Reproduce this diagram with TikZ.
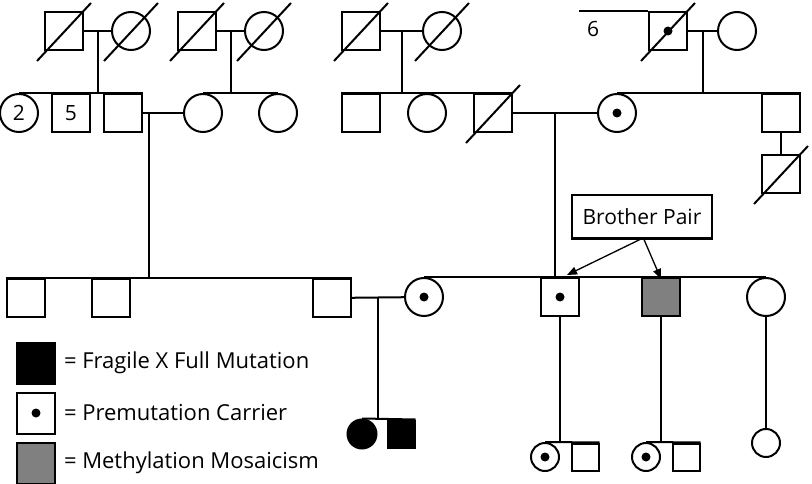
\documentclass[tikz,border=0pt]{standalone}
\usepackage{fontspec}
\setmainfont{Open Sans}
\usetikzlibrary{positioning,arrows.meta,calc}
\definecolor{mosaic}{RGB}{128,128,128}
\begin{document}
\begin{tikzpicture}[x=1pt,y=-1pt,line width=2pt]
\tikzstyle{every node}+=[inner sep=0pt,font=\fontsize{21}{25}\selectfont]
\tikzstyle{male}=[draw,rectangle,minimum size=38pt]
\tikzstyle{female}=[draw,circle,minimum size=38pt]
\tikzstyle{smale}=[draw,rectangle,minimum size=27pt]
\tikzstyle{sfemale}=[draw,circle,minimum size=28pt]
\tikzstyle{legendtext}=[font=\fontsize{22}{26}\selectfont]
\useasboundingbox (0,0) rectangle (812,484);
\node[male] (gf1) at (64,31) {};
\node[female] (gm1) at (131,31) {};
\node[male] (gf2) at (197,31) {};
\node[female] (gm2) at (264,31) {};
\node[male] (gf3) at (361,31) {};
\node[female] (gm3) at (442,31) {};
\node[male] (gf4) at (668,31) {};
\node[female] (gm4) at (737,31) {};
\node (six) at (593,29) {6};
\coordinate (sixend) at (579,0);
\draw (sixend |- gf4.north west) -- (gf4.north west);
\fill (gf4) circle (4.5);
\node[female] (c2) at (19,113) {2};
\node[male] (s5) at (71,113) {5};
\node[male] (f1) at (123,113) {};
\node[female] (m1) at (203,113) {};
\node[female] (a1) at (278,113) {};
\node[male] (u1) at (361,113) {};
\node[female] (u2) at (427,113) {};
\node[male] (f2) at (493,113) {};
\node[female] (m2) at (617,113) {};
\fill (m2) circle (4.5);
\node[male] (u3) at (781,113) {};
\node[male] (u4) at (781,174) {};
\node[male] (b1) at (26,298) {};
\node[male] (b2) at (111,298) {};
\node[male] (b3) at (332,298) {};
\node[female] (w) at (424,297) {};
\fill (w) circle (4.5);
\node[male] (p1) at (560,297) {};
\fill (p1) circle (4.5);
\node[male,fill=mosaic] (p2) at (661,297) {};
\node[female] (s) at (766,297) {};
\node[sfemale,fill=black,minimum size=29pt] (k1) at (362,434) {};
\node[smale,fill=black] (k2) at (401,434) {};
\node[sfemale] (g1) at (545,457) {};
\fill (g1) circle (4.5);
\node[smale] (g2) at (585,457) {};
\node[sfemale] (g3) at (646,457) {};
\fill (g3) circle (4.5);
\node[smale] (g4) at (686,457) {};
\node[sfemale] (g5) at (766,443) {};
\draw ([shift={(-27,30)}]gf1.center) -- ([shift={(27,-28)}]gf1.center);
\draw ([shift={(-27,30)}]gm1.center) -- ([shift={(27,-28)}]gm1.center);
\draw ([shift={(-27,30)}]gf2.center) -- ([shift={(27,-28)}]gf2.center);
\draw ([shift={(-27,30)}]gm2.center) -- ([shift={(27,-28)}]gm2.center);
\draw ([shift={(-27,30)}]gf3.center) -- ([shift={(27,-28)}]gf3.center);
\draw ([shift={(-27,30)}]gm3.center) -- ([shift={(27,-28)}]gm3.center);
\draw ([shift={(-27,30)}]gf4.center) -- ([shift={(27,-28)}]gf4.center);
\draw ([shift={(-27,30)}]f2.center) -- ([shift={(27,-28)}]f2.center);
\draw ([shift={(-27,30)}]u4.center) -- ([shift={(27,-28)}]u4.center);
\draw (gf1) -- coordinate (mar1) (gm1);
\draw (gf2) -- coordinate (mar2) (gm2);
\draw (gf3) -- coordinate (mar3) (gm3);
\draw (gf4) -- coordinate (mar4) (gm4);
\draw (mar1) -- (mar1 |- c2.north);
\draw (mar2) -- (mar2 |- m1.north);
\draw (mar3) -- (mar3 |- u1.north);
\draw (mar4) -- (mar4 |- u3.north);
\draw (c2.north) -- (f1.north east);
\draw (m1.north) -- (a1.north);
\draw (u1.north west) -- (f2.north east);
\draw (m2.north) -- (u3.north east);
\draw (u3) -- (u4);
\draw (f1) -- coordinate[pos=0.15] (mar5) (m1);
\draw (f2) -- coordinate (mar6) (m2);
\draw (mar5) -- (mar5 |- b1.north);
\draw (mar6) -- (mar6 |- w.north);
\draw (b1.north west) -- (b3.north east);
\draw (w.north) -- (s.north);
\draw (b3) -- coordinate (mar7) (w);
\draw (mar7) -- (mar7 |- k2.north);
\draw (k1.north) -- (k2.north east);
\draw (p1.south) -- (p1.south |- g1.north);
\draw (g1.north) -- (g2.north east);
\draw (p2.south) -- (p2.south |- g3.north);
\draw (g3.north) -- (g4.north east);
\draw (s) -- (g5);
\node[draw,minimum width=140pt,minimum height=43pt] (bp) at (642,217) {Brother Pair};
\draw[-{Triangle[length=10pt,width=8pt]},line width=1.3pt] ([xshift=-2pt]bp.south) -- ([shift={(7,-2)}]p1.north);
\draw[-{Triangle[length=10pt,width=8pt]},line width=1.3pt] ([xshift=2pt]bp.south) -- ([yshift=-2pt]p2.north);
\node[male,fill=black,minimum height=41pt] (lg1) at (36,363) {};
\node[male,minimum height=41pt] (lg2) at (36,413) {};
\fill (lg2) circle (4.5);
\node[male,fill=mosaic,minimum height=41pt] (lg3) at (36,463) {};
\node[legendtext,right=7pt of lg1] (lt1) {= Fragile X Full Mutation};
\node[legendtext,right=7pt of lg2] (lt2) {= Premutation Carrier};
\node[legendtext,right=7pt of lg3] (lt3) {= Methylation Mosaicism};
\end{tikzpicture}
\end{document}
